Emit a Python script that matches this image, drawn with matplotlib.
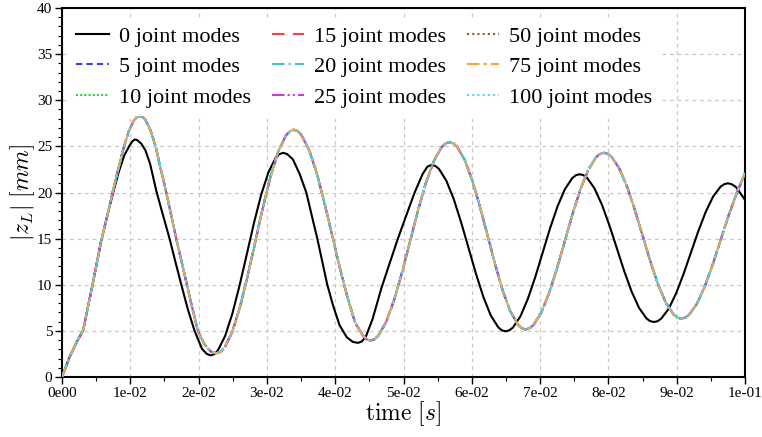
import matplotlib
matplotlib.use('Agg')
import matplotlib.pyplot as plt
from matplotlib.ticker import MultipleLocator, FixedLocator, FixedFormatter

# ---- data (time in s, |z_L| in mm) ----
t_0 = [0.0, 0.0011, 0.0023, 0.0031, 0.0038, 0.0045, 0.00575, 0.0067, 0.0075, 0.0083,
       0.0091, 0.0099, 0.0103, 0.01065, 0.0110, 0.0116, 0.0122, 0.0129, 0.0138, 0.0148, 0.01575, 0.0166,
       0.01747, 0.01844, 0.01941, 0.0205, 0.0212, 0.02176, 0.0223,
       0.02282, 0.02388, 0.02494, 0.0260, 0.02706, 0.02811, 0.02917, 0.03023, 0.03129, 0.03185, 0.0324,
       0.03295, 0.0338, 0.0348, 0.03577, 0.03657, 0.03738, 0.03811, 0.03884, 0.03975, 0.04065,
       0.0417, 0.0426, 0.04333,
       0.0439, 0.0445, 0.04548, 0.04675, 0.04796, 0.04918, 0.0504, 0.05163, 0.0528, 0.0535, 0.0541,
       0.05465, 0.05519, 0.05627, 0.05736, 0.05844, 0.05953, 0.06061, 0.0617, 0.06278, 0.06387, 0.0644, 0.06495,
       0.0655, 0.06603, 0.06712, 0.0682, 0.06929, 0.07037, 0.07145, 0.07254, 0.07362, 0.07471, 0.07525, 0.07579,
       0.07633, 0.07688, 0.07796, 0.07905, 0.08014, 0.08123, 0.08231, 0.0834, 0.08449, 0.08557, 0.0861, 0.08666,
       0.0872, 0.08774, 0.08883, 0.08991, 0.091, 0.09208, 0.09316, 0.09425, 0.09533, 0.09642, 0.09696, 0.0975,
       0.09805, 0.0987, 0.1]
z_0 = [0.0, 2.15, 4.0, 5.05, 7.6, 10.1, 14.8, 17.7, 20.0, 22.2,
       24.0, 25.1, 25.55, 25.75, 25.68, 25.3, 24.6, 23.1, 20.2, 17.5, 15.0, 12.5,
       10.0, 7.3, 5.0, 3.05, 2.5, 2.34, 2.48,
       2.88, 4.44, 6.86, 9.93, 13.32, 16.71, 19.78, 22.2, 23.76, 24.17, 24.3,
       24.17, 23.6, 22.0, 20.0, 17.5, 15.0, 12.5, 10.0, 7.6, 5.6,
       4.3, 3.8, 3.7,
       3.85, 4.4, 6.3, 9.6, 12.3, 15.0, 17.5, 20.0, 22.0, 22.8, 23.0,
       22.88, 22.56, 21.28, 19.28, 16.76, 13.98, 11.19, 8.67, 6.67, 5.39, 5.06, 4.95,
       5.06, 5.37, 6.58, 8.46, 10.83, 13.47, 16.1, 18.47, 20.35, 21.56, 21.88, 21.98,
       21.88, 21.59, 20.45, 18.68, 16.45, 13.97, 11.49, 9.26, 7.49, 6.35, 6.06, 5.96,
       6.05, 6.33, 7.4, 9.06, 11.16, 13.48, 15.8, 17.9, 19.56, 20.63, 20.9, 21.0,
       20.9, 20.58, 19.2]

t_conv = [0.0, 0.0011, 0.0023, 0.0031, 0.0038, 0.0045, 0.00575, 0.0067, 0.0075, 0.0082,
          0.0089, 0.0097, 0.0105, 0.0110, 0.01146, 0.0118, 0.0122, 0.01293, 0.0137, 0.01448, 0.01527, 0.016,
          0.01673, 0.01751, 0.01829, 0.0191, 0.0199, 0.0208, 0.0217, 0.0222, 0.02268, 0.02325,
          0.02381, 0.02493, 0.02606, 0.02718, 0.02831, 0.02943, 0.03056, 0.03168, 0.03281, 0.03337, 0.03393,
          0.0345, 0.03505, 0.03618, 0.0373, 0.03842, 0.03955, 0.04067, 0.04179, 0.04291, 0.04404, 0.0446, 0.04516,
          0.04574, 0.04632, 0.04748, 0.04864, 0.0498, 0.05096, 0.05211, 0.05327, 0.05443, 0.05559, 0.05617, 0.05675,
          0.0573, 0.05786, 0.05898, 0.06009, 0.0612, 0.06232, 0.06343, 0.06454, 0.06565, 0.06677, 0.06732, 0.06788,
          0.06845, 0.06903, 0.07017, 0.07132, 0.07247, 0.07362, 0.07476, 0.07591, 0.07706, 0.0782, 0.07877, 0.07935,
          0.07991, 0.08048, 0.08161, 0.08275, 0.08388, 0.08501, 0.08614, 0.08727, 0.08841, 0.08954, 0.0901, 0.09067,
          0.09125, 0.09182, 0.09297, 0.09412, 0.09527, 0.09642, 0.09757, 0.09872, 0.1]
z_conv = [0.0, 2.15, 4.0, 5.05, 7.6, 10.1, 14.8, 17.7, 20.3, 22.4,
          24.5, 26.5, 27.8, 28.2, 28.3, 28.2, 27.9, 26.8, 25.0, 22.5, 20.0, 17.5,
          15.0, 12.5, 10.0, 7.4, 5.0, 3.6, 2.8, 2.64, 2.59, 2.73,
          3.18, 4.9, 7.58, 10.95, 14.7, 18.44, 21.81, 24.49, 26.21, 26.65, 26.8,
          26.66, 26.24, 24.62, 22.09, 18.91, 15.38, 11.84, 8.66, 5.9, 4.51, 4.09, 3.95,
          4.08, 4.48, 6.0, 8.38, 11.38, 14.7, 18.02, 21.02, 23.4, 24.92, 25.32, 25.45,
          25.33, 24.95, 23.51, 21.27, 18.44, 15.31, 12.17, 9.34, 7.1, 5.66, 5.28, 5.16,
          5.28, 5.63, 6.99, 9.1, 11.77, 14.73, 17.69, 20.36, 22.47, 23.83, 24.18, 24.3,
          24.19, 23.86, 22.58, 20.6, 18.09, 15.32, 12.54, 10.03, 8.05, 6.78, 6.44, 6.33,
          6.43, 6.75, 7.95, 9.83, 12.19, 14.82, 17.44, 19.8, 22.1]

modes = [0, 5, 10, 15, 20, 25, 50, 75, 100]
x_ticks = [0.0, 0.01, 0.02, 0.03, 0.04, 0.05, 0.06, 0.07, 0.08, 0.09, 0.1]
x_ticklabels = ['0e00', '1e-02', '2e-02', '3e-02', '4e-02', '5e-02', '6e-02', '7e-02',
                '8e-02', '9e-02', '1e-01']

# ---- style ----
colors = ['black', '#3838ff', '#3ccc3c', '#ff4040', '#3cc8c8', '#cc3ccc', '#a0522d',
          '#ffa030', '#5ad2ff']
styles = ['-', (0, (3, 2)), (0, (1, 1)), (0, (6, 4)), (0, (6, 2, 1, 2)),
          (0, (6, 1.5, 1, 1.5, 1, 1.5)), (0, (1, 1.5)), (0, (6, 2, 1.5, 2)), (0, (1, 1.5))]

plt.rcParams['font.family'] = ['Liberation Serif', 'DejaVu Serif']
plt.rcParams['mathtext.fontset'] = 'cm'

fig = plt.figure(figsize=(7.62, 4.37), dpi=100)
ax = fig.add_axes([62 / 762, 1 - 377 / 437, 683 / 762, 369 / 437])

for i, m in enumerate(modes):
    if m == 0:
        xs, ys = t_0, z_0
    else:
        xs, ys = t_conv, z_conv
    ax.plot(xs, ys, color=colors[i], linestyle=styles[i], linewidth=1.5,
            label=f'{m} joint modes', zorder=3 + i,
            solid_joinstyle='round', dash_joinstyle='round')

ax.set_xlim(0, 0.1)
ax.set_ylim(0, 40)
ax.xaxis.set_major_locator(FixedLocator(x_ticks))
ax.xaxis.set_major_formatter(FixedFormatter(x_ticklabels))
ax.xaxis.set_minor_locator(MultipleLocator(0.005))
ax.yaxis.set_major_locator(MultipleLocator(5))
ax.yaxis.set_minor_locator(MultipleLocator(1))
ax.tick_params(axis='both', which='major', direction='out', length=5, width=1,
               labelsize=11, pad=2, colors='black')
ax.tick_params(axis='both', which='minor', direction='out', length=3, width=0.8)
ax.grid(True, which='major', linestyle=(0, (3, 3)), color='#c8c8c8', linewidth=0.9)
for s in ax.spines.values():
    s.set_linewidth(1.5)
    s.set_color('black')

ax.set_xlabel(r'$\mathrm{time}\ [s]$', fontsize=17, labelpad=0)
ax.set_ylabel(r'$|z_L|\ [mm]$', fontsize=17, labelpad=0)

leg = ax.legend(ncol=3, loc='upper left', bbox_to_anchor=(0.0, 0.99), fontsize=16,
                frameon=True, fancybox=False, edgecolor='none', facecolor='white',
                framealpha=1.0, handlelength=1.45, handletextpad=0.45,
                columnspacing=0.95, labelspacing=0.45, borderpad=0.35, borderaxespad=0.3)
leg.set_zorder(20)

fig.savefig('out.png', dpi=100)
